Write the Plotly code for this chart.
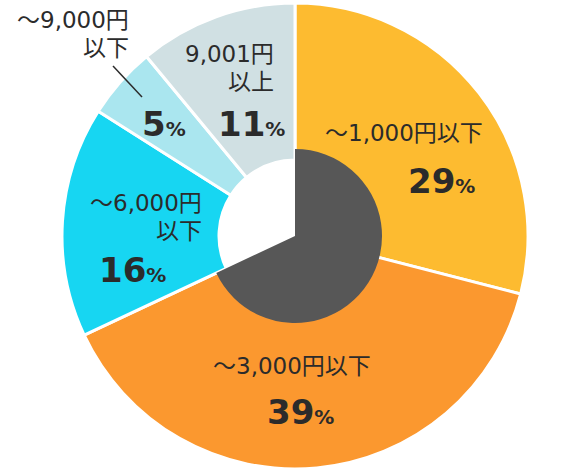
import plotly.graph_objects as go

W, H = 567, 470

# データ
labels = ["～1,000円以下", "～3,000円以下", "～6,000円以下", "～9,000円以下", "9,001円以上"]
label_lines = [["～1,000円以下"], ["～3,000円以下"], ["～6,000円", "以下"],
               ["～9,000円", "以下"], ["9,001円", "以上"]]
values = [29, 39, 16, 5, 11]
colors = ["#FDBB30", "#FB982F", "#17D6F2", "#AAE6EF", "#D0E0E3"]

# 内側の円（1,000円以下＋3,000円以下）
inner_values = [values[0] + values[1], sum(values[2:])]
inner_colors = ["#575757", "rgba(0,0,0,0)"]

cx, cy, R = 295, 236, 233
r_inner = 87


def dom(r):
    return dict(x=[(cx - r) / W, (cx + r) / W], y=[(H - cy - r) / H, (H - cy + r) / H])


fig = go.Figure()
fig.add_trace(go.Pie(
    values=values, labels=labels, sort=False, direction="clockwise", rotation=0,
    hole=76 / R, marker=dict(colors=colors, line=dict(color="white", width=3)),
    textinfo="none", hoverinfo="skip", domain=dom(R),
))
fig.add_trace(go.Pie(
    values=inner_values, sort=False, direction="clockwise", rotation=0,
    marker=dict(colors=inner_colors, line=dict(width=0)),
    textinfo="none", hoverinfo="skip", domain=dom(r_inner),
))

txt = "#2B2B2B"
font = "DejaVu Sans, Noto Sans CJK JP"

# ラベル位置（px）: 1行目の位置と揃え
label_pos = [(404, 133, "center"), (292, 366, "center"), (204, 203, "right"),
             (131, 20, "right"), (276, 54, "right")]
pct_pos = [(441, 181), (300, 412), (132, 270), (164, 124), (251, 124)]
line_gap = 28

for lines, (x, y, al), v, (px, py) in zip(label_lines, label_pos, values, pct_pos):
    for i, ln in enumerate(lines):
        fig.add_annotation(
            x=x / W, y=1 - (y + i * line_gap) / H, xref="paper", yref="paper",
            text=ln, showarrow=False, xanchor=al, yanchor="middle",
            font=dict(family=font, size=23, color=txt),
        )
    fig.add_annotation(
        x=px / W, y=1 - py / H, xref="paper", yref="paper",
        text=f"<b>{v}</b><span style='font-size:20px'><b>%</b></span>",
        showarrow=False, xanchor="center", yanchor="middle",
        font=dict(family=font, size=34, color=txt),
    )

# 引き出し線
fig.add_shape(type="line", xref="paper", yref="paper",
              x0=113 / W, y0=1 - 66 / H, x1=142 / W, y1=1 - 97 / H,
              line=dict(color=txt, width=1.5))

fig.update_layout(
    width=W, height=H, margin=dict(l=0, r=0, t=0, b=0),
    showlegend=False, paper_bgcolor="white", plot_bgcolor="white",
)

fig.write_html("out.html", config={"displayModeBar": False},
               post_script="document.body.style.margin='0';")
